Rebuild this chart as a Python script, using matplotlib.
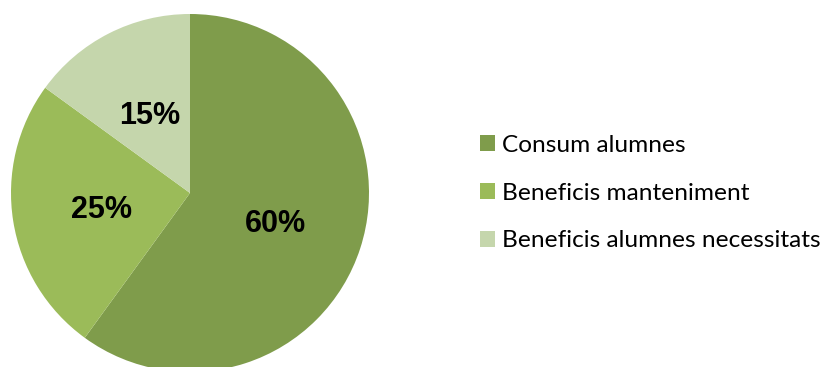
import matplotlib
matplotlib.use("Agg")
import matplotlib.pyplot as plt
import matplotlib.transforms as mtransforms

categories = ["Consum alumnes", "Beneficis manteniment", "Beneficis alumnes necessitats"]
values = [60, 25, 15]
colors = ["#7F9C4B", "#9BBB59", "#C5D6AC"]

fig = plt.figure(figsize=(8.25, 3.67), dpi=100)
fig.patch.set_facecolor("white")
ax = fig.add_axes([11/825, -5/367, 358/825, 358/367])
wedges, texts, autotexts = ax.pie(
    values, colors=colors, startangle=90, counterclock=False,
    autopct="%1.0f%%", pctdistance=0.5, radius=1.0,
    wedgeprops=dict(linewidth=0),
    textprops=dict(fontfamily="Liberation Sans", fontweight="bold", fontsize=22, color="black"),
)
ax.set_xlim(-1, 1)
ax.set_ylim(-1, 1)
ax.set_aspect("equal")
ax.axis("off")
for w in wedges:
    w.set_clip_on(False)
offset = mtransforms.ScaledTranslation(0, -3/100, fig.dpi_scale_trans)
for t in autotexts:
    t.set_transform(t.get_transform() + offset)

leg = fig.legend(
    wedges, categories, loc="center left", bbox_to_anchor=(480/825, 0.474),
    frameon=False, prop=dict(family="Lato", size=17.6),
    handlelength=0.6, handleheight=0.6, handletextpad=0.28, labelspacing=1.1,
    borderpad=0, borderaxespad=0,
)
fig.savefig("out.png", dpi=100, facecolor="white")
